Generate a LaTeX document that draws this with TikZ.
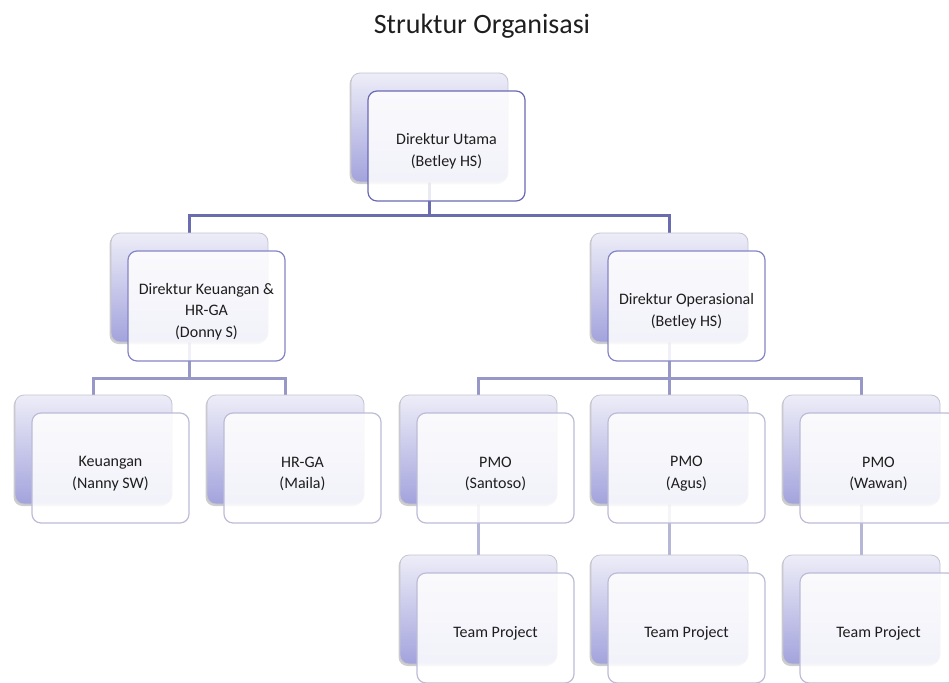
\documentclass[tikz,border=0pt]{standalone}
\usepackage{fontspec}
\setmainfont{Carlito}
\usetikzlibrary{shadows,backgrounds}
\definecolor{bTop}{HTML}{EDEDF8}
\definecolor{bBot}{HTML}{A3A3DD}
\definecolor{bBorder}{HTML}{C4C4CE}
\definecolor{fA}{HTML}{6A6AB4}
\definecolor{fB}{HTML}{8585C6}
\definecolor{fC}{HTML}{BCBCD9}
\definecolor{cA}{HTML}{6B6BAF}
\definecolor{cB}{HTML}{9898C8}
\definecolor{cC}{HTML}{B6B6D6}
\definecolor{txt}{HTML}{1E1E1E}
\tikzset{
  backbox/.style={rectangle, rounded corners=9pt, minimum width=157pt, minimum height=109pt,
    inner sep=0pt, top color=bTop, bottom color=bBot, draw=bBorder, line width=0.8pt,
    drop shadow={shadow xshift=-1.5pt, shadow yshift=-2pt, opacity=0.35, fill=black!55}},
  frontbox/.style={rectangle, rounded corners=9pt, minimum width=157pt, minimum height=110pt,
    inner sep=0pt, fill=white, fill opacity=0.86, text opacity=1, line width=1.2pt,
    align=center, font=\fontsize{16}{21.7}\selectfont, text=txt},
  connA/.style={draw=cA, line width=3pt},
  connB/.style={draw=cB, line width=3pt},
  connC/.style={draw=cC, line width=2.6pt},
}
\newcommand\orgpair[5]{%
  \node[backbox] (#1b) at (#2+78.5,#3+54.5) {};
  \node[frontbox, draw=#4] (#1) at (#2+95.5,#3+73) {\rule{0pt}{22pt}#5};
}
\begin{document}
\begin{tikzpicture}[x=1pt,y=-1pt]
\useasboundingbox (0,0) rectangle (949,682);
\clip (0,0) rectangle (949,682);
\node[font=\fontsize{28}{32}\selectfont, text=txt] (title) at (482,26) {Struktur Organisasi};
\orgpair{top}{351}{73}{fA}{Direktur Utama\\(Betley HS)}
\orgpair{keu}{111}{233}{fB}{Direktur Keuangan \&\\HR-GA\\(Donny S)}
\orgpair{ops}{591}{233}{fB}{Direktur Operasional\\(Betley HS)}
\orgpair{k1}{15}{395}{fC}{Keuangan\\(Nanny SW)}
\orgpair{k2}{207}{395}{fC}{HR-GA\\(Maila)}
\orgpair{p1}{400}{395}{fC}{PMO\\(Santoso)}
\orgpair{p2}{591}{395}{fC}{PMO\\(Agus)}
\orgpair{p3}{783}{395}{fC}{PMO\\(Wawan)}
\orgpair{t1}{400}{555}{fC}{Team Project}
\orgpair{t2}{591}{555}{fC}{Team Project}
\orgpair{t3}{783}{555}{fC}{Team Project}
\begin{scope}[on background layer]
  \coordinate (busA) at (0,215);
  \coordinate (busB) at (0,378);
  \draw[connA] (topb.south) -- (topb.south |- busA);
  \draw[connA] (keub.north) |- (busA -| opsb.north) -- (opsb.north);
  \draw[connB] (keub.south) -- (keub.south |- busB);
  \draw[connB] (k1b.north) |- (busB -| k2b.north) -- (k2b.north);
  \draw[connB] (opsb.south) -- (opsb.south |- busB);
  \draw[connB] (p1b.north) |- (busB -| p3b.north) -- (p3b.north);
  \draw[connB] (p2b.north) -- (p2b.north |- busB);
  \draw[connC] (p1b.south) -- (t1b.north);
  \draw[connC] (p2b.south) -- (t2b.north);
  \draw[connC] (p3b.south) -- (t3b.north);
\end{scope}
\end{tikzpicture}
\end{document}
